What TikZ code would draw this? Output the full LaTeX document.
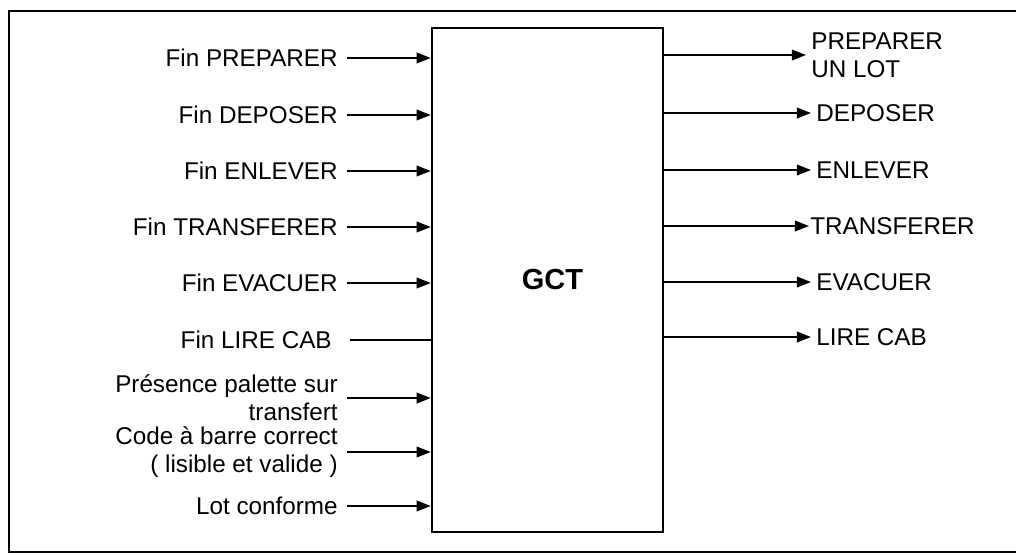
\documentclass[tikz,border=0pt]{standalone}
\usepackage{fontspec}
\setmainfont{Liberation Sans}
\usetikzlibrary{calc}
\usetikzlibrary{arrows.meta}

\tikzset{
  lab/.style={inner ysep=0pt,font=\fontsize{13.8}{16}\selectfont},
  entree/.style={lab,anchor=east,align=right,inner xsep=0.18cm},
  sortie/.style={lab,anchor=west,align=left,inner xsep=0.1cm},
  fl/.style={line width=1pt,-{Triangle[length=8pt,width=6pt]}}
}

\begin{document}
\begin{tikzpicture}[x=0.02cm,y=-0.02cm]
\useasboundingbox (0,0) rectangle (1016,554);
\draw[line width=1.3pt] (1016,11) -- (9,11) -- (9,552) -- (1016,552);

\node[draw,line width=1.4pt,minimum width=4.62cm,minimum height=10.08cm,
  font=\fontsize{16.5}{18}\selectfont\bfseries] (gct) at (547.5,280) {\hspace{0.2cm}GCT};

\node[entree] (e1) at (347,58) {Fin PREPARER};
\node[entree] (e2) at (347,115) {Fin DEPOSER};
\node[entree] (e3) at (347,171) {Fin ENLEVER};
\node[entree] (e4) at (347,227) {Fin TRANSFERER};
\node[entree] (e5) at (347,283) {Fin EVACUER};
\node[entree,inner xsep=0.36cm] (e6) at (350,340) {Fin LIRE CAB};
\node[entree] (e7) at (347,398) {Présence palette sur\\transfert};
\node[entree] (e8) at (347,452) {Code à barre correct\\( lisible et valide )};
\node[entree] (e9) at (347,506) {Lot conforme};

\draw[fl] (e1.east) -- (e1.east -| gct.west);
\draw[fl] (e2.east) -- (e2.east -| gct.west);
\draw[fl] (e3.east) -- (e3.east -| gct.west);
\draw[fl] (e4.east) -- (e4.east -| gct.west);
\draw[fl] (e5.east) -- (e5.east -| gct.west);
\draw[line width=1pt] (e6.east) -- (e6.east -| gct.west);
\draw[fl] (e7.east) -- (e7.east -| gct.west);
\draw[fl] (e8.east) -- (e8.east -| gct.west);
\draw[fl] (e9.east) -- (e9.east -| gct.west);

\node[sortie] (s1) at (806,55) {PREPARER\\UN LOT};
\node[sortie] (s2) at (811,113) {DEPOSER};
\node[sortie] (s3) at (811,170) {ENLEVER};
\node[sortie,inner xsep=0.02cm] (s4) at (809,226) {TRANSFERER};
\node[sortie] (s5) at (811,282) {EVACUER};
\node[sortie] (s6) at (811,337) {LIRE CAB};

\draw[fl] (s1.west -| gct.east) -- (s1.west);
\draw[fl] (s2.west -| gct.east) -- (s2.west);
\draw[fl] (s3.west -| gct.east) -- (s3.west);
\draw[fl] (s4.west -| gct.east) -- (s4.west);
\draw[fl] (s5.west -| gct.east) -- (s5.west);
\draw[fl] (s6.west -| gct.east) -- (s6.west);
\end{tikzpicture}
\end{document}
